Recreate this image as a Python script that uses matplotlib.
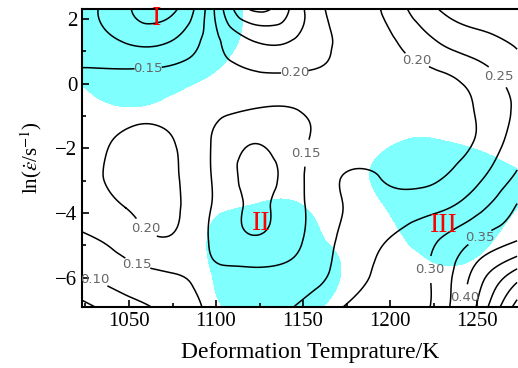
import numpy as np
import matplotlib
matplotlib.use("Agg")
import matplotlib.pyplot as plt
import matplotlib.tri as mtri
from matplotlib.ticker import MultipleLocator

plt.rcParams['font.family'] = 'serif'
plt.rcParams['font.serif'] = ['Liberation Serif', 'DejaVu Serif']
plt.rcParams['mathtext.fontset'] = 'stix'

# deformation temperatures (K) and ln(strain rate) nodes
temps = np.array([1023, 1048, 1073, 1098, 1123, 1148, 1173, 1198, 1223, 1248, 1273])
ln_rate = np.linspace(2.303, -6.908, 10)

# power dissipation efficiency (rows: top -> bottom)
eta = np.array([
    [0.120, 0.060, 0.035, 0.190, 0.360, 0.265, 0.180, 0.210, 0.290, 0.315, 0.330],
    [0.130, 0.098, 0.100, 0.180, 0.250, 0.240, 0.190, 0.190, 0.240, 0.280, 0.305],
    [0.155, 0.160, 0.165, 0.180, 0.195, 0.195, 0.190, 0.180, 0.190, 0.220, 0.280],
    [0.165, 0.185, 0.185, 0.165, 0.150, 0.152, 0.170, 0.170, 0.180, 0.200, 0.260],
    [0.170, 0.210, 0.205, 0.147, 0.102, 0.140, 0.170, 0.180, 0.180, 0.200, 0.280],
    [0.170, 0.220, 0.210, 0.147, 0.085, 0.140, 0.200, 0.195, 0.190, 0.230, 0.305],
    [0.170, 0.200, 0.210, 0.147, 0.094, 0.140, 0.200, 0.220, 0.235, 0.280, 0.355],
    [0.140, 0.170, 0.195, 0.143, 0.106, 0.145, 0.210, 0.250, 0.290, 0.350, 0.400],
    [0.100, 0.130, 0.148, 0.158, 0.160, 0.170, 0.220, 0.260, 0.300, 0.410, 0.520],
    [0.035, 0.080, 0.115, 0.160, 0.180, 0.205, 0.250, 0.270, 0.300, 0.440, 0.620],
])

# instability parameter (negative = unstable domain)
xi = np.array([
    [-1.0, -1.0, -1.0, -0.70, 0.40, 1.5, 2.0, 2.0, 2.0, 2.0, 2.0],
    [-1.0, -1.0, -1.0, -0.60, 0.50, 1.5, 2.0, 2.0, 2.0, 2.0, 2.0],
    [-0.25, -0.8, -0.5, 0.05, 1.0, 1.5, 2.0, 2.0, 2.0, 2.0, 2.0],
    [0.5, 0.05, 0.3, 0.8, 1.2, 1.5, 1.5, 0.9, 0.75, 1.0, 1.5],
    [1.0, 1.0, 1.0, 1.0, 1.0, 1.0, 0.8, 0.15, -0.08, 0.18, 0.7],
    [1.5, 1.5, 1.2, 0.8, 0.65, 0.75, 0.6, -0.45, -1.0, -0.7, -0.1],
    [2.0, 2.0, 1.0, 0.2, -0.12, -0.10, 0.6, -0.03, -1.0, -0.9, 0.0],
    [2.0, 2.0, 1.0, -0.15, -1.0, -0.55, 0.3, 0.4, -0.5, -0.4, 0.6],
    [2.0, 2.0, 1.0, -0.02, -1.0, -0.9, 0.08, 1.0, 0.4, 0.4, 1.0],
    [2.0, 2.0, 1.0, 0.25, -0.8, -0.6, 0.6, 1.5, 1.5, 1.5, 1.5],
])

levels = np.arange(0.05, 0.70, 0.05)
label_pos = [(1061, 0.47), (1145, 0.50), (1217, 0.88), (1261.5, 0.19),
             (1153.5, -2.16), (1058.6, -4.54), (1055.2, -5.53), (1032, -5.9),
             (1222, -5.75), (1250.6, -4.67), (1243, -6.62)]
domains = ['I', 'II', 'III']
domain_pos = [(1066, 2.0), (1126, -4.33), (1231, -4.38)]

# smooth the grid with the cubic tri interpolator (in index space)
I, J = np.meshgrid(np.arange(len(temps)), np.arange(len(ln_rate)))
tri = mtri.Triangulation(I.ravel().astype(float), J.ravel().astype(float))
refiner = mtri.UniformTriRefiner(tri)
rtri, reta = refiner.refine_field(eta.ravel(), subdiv=4)
rtri2, rxi = refiner.refine_field(xi.ravel(), subdiv=4)
tx = np.interp(rtri.x, np.arange(len(temps)), temps)
ty = np.interp(rtri.y, np.arange(len(ln_rate)), ln_rate)
dtri = mtri.Triangulation(tx, ty, triangles=rtri.triangles)

fig = plt.figure(figsize=(5.18, 3.68), dpi=100)
ax = fig.add_axes([82 / 518, 61 / 368, 436 / 518, 298 / 368])

ax.tricontourf(dtri, rxi, levels=[-10, 0], colors=['#80ffff'])
cs = ax.tricontour(dtri, reta, levels=levels, colors='black', linewidths=1.1)
txts = ax.clabel(cs, levels, manual=label_pos, fmt='%.2f', fontsize=9.5,
                 colors='#666666', inline=True, inline_spacing=2)
for t in txts:
    t.set_rotation(0)
    t.set_family('DejaVu Sans')
    t.set_clip_on(True)

for name, (x, y) in zip(domains, domain_pos):
    ax.text(x, y, name, color='red', fontsize=20, ha='center', va='center')

ax.set_xlim(1023, 1273.5)
ax.set_ylim(-6.908, 2.303)
ax.xaxis.set_major_locator(MultipleLocator(50))
ax.xaxis.set_minor_locator(MultipleLocator(25))
ax.yaxis.set_major_locator(MultipleLocator(2))
ax.yaxis.set_minor_locator(MultipleLocator(1))
ax.tick_params(which='both', direction='in', top=False, right=False, labelsize=15, width=1.2)
ax.tick_params(which='major', length=5)
ax.tick_params(which='minor', length=3)
ax.spines['right'].set_visible(False)
for s in ['left', 'bottom', 'top']:
    ax.spines[s].set_linewidth(1.5)

ax.set_xlabel('Deformation Temprature/K', fontsize=17)
ax.xaxis.set_label_coords(0.523, -0.118)
ax.set_ylabel(r'ln($\dot{\varepsilon}$/s$^{-1}$)', fontsize=15, labelpad=8)

fig.savefig('out.png', dpi=100)
